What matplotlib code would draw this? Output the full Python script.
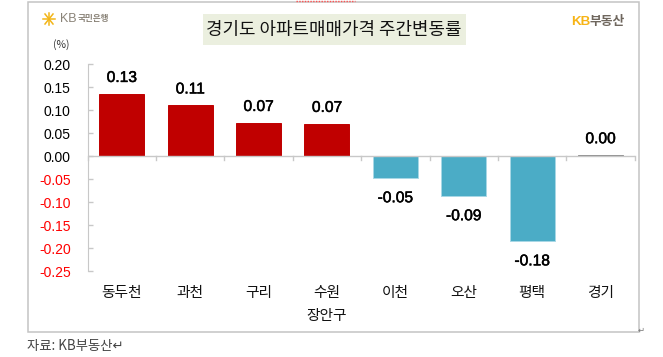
import matplotlib
matplotlib.use('Agg')
import matplotlib.pyplot as plt
import matplotlib.patheffects as pe
from matplotlib.patches import Rectangle

plt.rcParams['font.family'] = ['Noto Sans CJK KR', 'DejaVu Sans']
NUM = ['Liberation Sans', 'Noto Sans CJK KR']

W, H = 663, 357

regions = ['동두천', '과천', '구리', '수원', '이천', '오산', '평택', '경기']
changes = [0.135, 0.11, 0.072, 0.07, -0.048, -0.087, -0.185, 0.002]
labels = ['0.13', '0.11', '0.07', '0.07', '-0.05', '-0.09', '-0.18', '0.00']
yticks = [0.20, 0.15, 0.10, 0.05, 0.00, -0.05, -0.10, -0.15, -0.20, -0.25]
xlabel = '장안구'
title = '경기도 아파트매매가격 주간변동률'
source = '자료: KB부동산↵'


def fx(px):
    return px / W


def fy(py):
    return 1 - py / H


fig = plt.figure(figsize=(W / 100, H / 100), dpi=100, facecolor='white')
heavy = [pe.withStroke(linewidth=0.35, foreground='black')]

# outer chart frame, and the red dotted scrap at the very top
fig.add_artist(Rectangle((fx(27.5), fy(331.5)), fx(638.5 - 27.5), 330 / H, transform=fig.transFigure,
                         fc='white', ec='#c4c4c4', lw=1.1, zorder=-2))
fig.add_artist(plt.Line2D([fx(296), fx(355)], [fy(0.5), fy(0.5)], color='#ff5050', lw=1, ls=(0, (1, 1))))

ax = fig.add_axes([fx(87.5), fy(271.3), fx(634.7 - 87.5), (271.3 - 64) / H], zorder=2)
ax.set_facecolor('none')

colors = ['#c00000' if v > 0.01 else '#4bacc6' if v < 0 else '#8c8c8c' for v in changes]
edges = ['#a9d8e6' if v < 0 else c for v, c in zip(changes, colors)]
xpos = range(len(regions))
ax.bar(xpos, changes, width=0.66, color=colors, edgecolor=edges, lw=0.7, zorder=2)
for x, v, s in zip(xpos, changes, labels):
    off = 9 if v >= 0 else -27
    t = ax.annotate(s, (x, v), xytext=(0, off), textcoords='offset pixels', ha='center', va='bottom',
                    family=NUM, fontsize=11.2, color='black')
    t.set_path_effects(heavy)

ax.set_xlim(-0.5, len(regions) - 0.5)
ax.set_ylim(-0.25, 0.20)
ax.set_yticks(yticks)
ax.set_yticklabels(['%.2f' % t for t in yticks], family=NUM, fontsize=10)
for lab, t in zip(ax.get_yticklabels(), yticks):
    lab.set_color('red' if t < 0 else 'black')
ax.tick_params(axis='y', direction='in', length=3.5, width=1, color='#c8c8c8', pad=12)

for s in ['top', 'right', 'bottom']:
    ax.spines[s].set_visible(False)
ax.spines['left'].set_color('#c8c8c8')
ax.set_xticks([])
ax.axhline(0, color='#c8c8c8', lw=1, zorder=3)
for i in range(len(regions) + 1):
    ax.plot([i - 0.5, i - 0.5], [0, -0.008], color='#c8c8c8', lw=1, clip_on=False, zorder=1)
for i, r in enumerate(regions):
    ax.text(i, (271.3 - 292.5) / (271.3 - 64), r, transform=ax.get_xaxis_transform(),
            ha='center', va='center', fontsize=10.6, color='#111111')

fig.text(fx(327), fy(316), xlabel, ha='center', va='center', fontsize=10.6, color='#111111')
fig.text(fx(61), fy(45), '(%)', ha='center', va='center', fontsize=7.5, color='#333333')

# title box
fig.add_artist(Rectangle((fx(203), fy(45)), fx(466 - 203), 31 / H, transform=fig.transFigure,
                         fc='#ebefdf', ec='none'))
fig.text(fx(334), fy(30), title, ha='center', va='center', fontsize=12.9, color='#111111')

# logos
star_x, star_y = 49, 19
for dx, dy in [(-6, 0), (6, 0), (-4, -5), (4, 5), (-4, 5), (4, -5), (0, -6), (0, 6)]:
    fig.add_artist(plt.Line2D([fx(star_x), fx(star_x + dx)], [fy(star_y), fy(star_y + dy)],
                              color='#f2b518', lw=1.1))
fig.text(fx(60), fy(19), 'KB', ha='left', va='center', family=NUM, fontsize=9, color='#8a8378')
fig.text(fx(78), fy(19), '국민은행', ha='left', va='center', fontsize=6.2, fontweight='bold', color='#8a8378')
fig.text(fx(571), fy(22), 'KB', ha='left', va='center', family=NUM, fontsize=9.6, color='#f7b416',
         fontweight='bold')
fig.text(fx(590), fy(22), '부동산', ha='left', va='center', fontsize=9.2, fontweight='bold', color='#6f675e')

fig.text(fx(27), fy(346), source, ha='left', va='center', fontsize=9.6, color='#444444')
fig.text(fx(638), fy(330), '↵', ha='left', va='center', fontsize=6, color='#777777')

plt.savefig('out.png', dpi=100)
